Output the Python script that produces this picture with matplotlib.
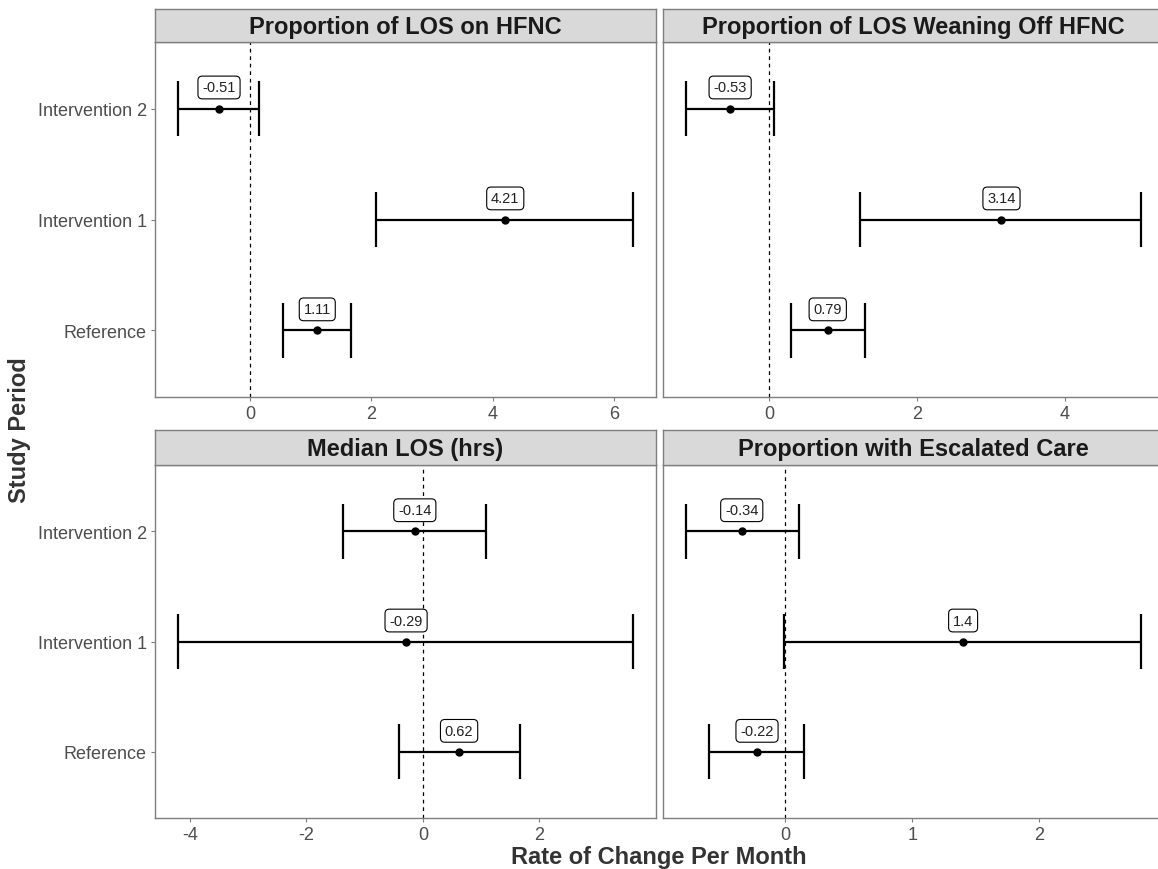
import matplotlib
matplotlib.use("Agg")
import matplotlib.pyplot as plt

plt.rcParams['font.family'] = ['Liberation Sans', 'DejaVu Sans']
plt.rcParams['axes.unicode_minus'] = False

periods = ["Reference", "Intervention 1", "Intervention 2"]
titles = ["Proportion of LOS on HFNC", "Proportion of LOS Weaning Off HFNC",
          "Median LOS (hrs)", "Proportion with Escalated Care"]

# estimates and 95% CI per panel, order: Reference, Intervention 1, Intervention 2
est_hfnc = [1.11, 4.21, -0.51]
lo_hfnc = [0.54, 2.08, -1.19]
hi_hfnc = [1.66, 6.32, 0.15]

est_wean = [0.79, 3.14, -0.53]
lo_wean = [0.29, 1.22, -1.13]
hi_wean = [1.29, 5.03, 0.06]

est_los = [0.62, -0.29, -0.14]
lo_los = [-0.42, -4.21, -1.38]
hi_los = [1.66, 3.61, 1.09]

est_esc = [-0.22, 1.4, -0.34]
lo_esc = [-0.60, -0.01, -0.78]
hi_esc = [0.15, 2.80, 0.11]

labels_hfnc = ["1.11", "4.21", "-0.51"]
labels_wean = ["0.79", "3.14", "-0.53"]
labels_los = ["0.62", "-0.29", "-0.14"]
labels_esc = ["-0.22", "1.4", "-0.34"]

xticks_list = [[0, 2, 4, 6], [0, 2, 4], [-4, -2, 0, 2], [0, 1, 2]]

panels = [
    (est_hfnc, lo_hfnc, hi_hfnc, labels_hfnc),
    (est_wean, lo_wean, hi_wean, labels_wean),
    (est_los, lo_los, hi_los, labels_los),
    (est_esc, lo_esc, hi_esc, labels_esc),
]

W, H = 1158, 870
fig = plt.figure(figsize=(W / 100, H / 100), dpi=100)

# pixel boxes: (x0, panel_top, panel_bottom, strip_top)
boxes = [(155, 43, 398, 10), (663, 43, 398, 10),
         (155, 466, 819, 431), (663, 466, 819, 431)]
pw = 501
border = "#7f7f7f"
txt = "#4d4d4d"

for i, (est, lo, hi, labs) in enumerate(panels):
    x0, top, bot, stop = boxes[i]
    ax = fig.add_axes([x0 / W, 1 - bot / H, pw / W, (bot - top) / H])
    ys = list(range(1, len(periods) + 1))
    ax.axvline(0, color="black", lw=0.9, ls=(0, (3, 3)), zorder=1)
    ax.hlines(ys, lo, hi, color="black", lw=1.6, zorder=2)
    ax.vlines(lo, [y - 0.25 for y in ys], [y + 0.25 for y in ys], color="black", lw=1.6, zorder=2)
    ax.vlines(hi, [y - 0.25 for y in ys], [y + 0.25 for y in ys], color="black", lw=1.6, zorder=2)
    ax.plot(est, ys, "o", color="black", ms=5, zorder=3)
    for e, y, s in zip(est, ys, labs):
        ax.text(e, y + 0.19, s, ha="center", va="center", fontsize=10.5, color="#222222", zorder=4,
                bbox=dict(boxstyle="round,pad=0.3,rounding_size=0.3", fc="white", ec="black", lw=0.8))
    rng = max(hi) - min(lo)
    ax.set_xlim(min(lo) - 0.05 * rng, max(hi) + 0.05 * rng)
    ax.set_ylim(0.4, 3.6)
    ax.set_xticks(xticks_list[i])
    ax.set_yticks(ys)
    if i % 2 == 0:
        ax.set_yticklabels(periods, fontsize=13, color=txt)
    else:
        ax.set_yticklabels([])
    ax.tick_params(axis="x", labelsize=13, labelcolor=txt, color=border, length=3, width=0.8, pad=3)
    ax.tick_params(axis="y", color=border, width=0.8, length=3 if i % 2 == 0 else 0, pad=3)
    for sp in ax.spines.values():
        sp.set_color(border)
        sp.set_linewidth(1.0)

    sax = fig.add_axes([x0 / W, 1 - top / H, pw / W, (top - stop) / H])
    sax.set_facecolor("#d9d9d9")
    sax.set_xticks([])
    sax.set_yticks([])
    for sp in sax.spines.values():
        sp.set_color(border)
        sp.set_linewidth(1.0)
    sax.text(0.5, 0.47, titles[i], transform=sax.transAxes, ha="center", va="center",
             fontsize=17, fontweight="bold", color="#1a1a1a")

fig.text(659 / W, 1 - 858 / H, "Rate of Change Per Month", ha="center", va="center",
         fontsize=17, fontweight="bold", color="#333333")
fig.text(20 / W, 1 - 430 / H, "Study Period", ha="center", va="center", rotation=90,
         fontsize=17, fontweight="bold", color="#333333")

fig.savefig("out.png", dpi=100)
